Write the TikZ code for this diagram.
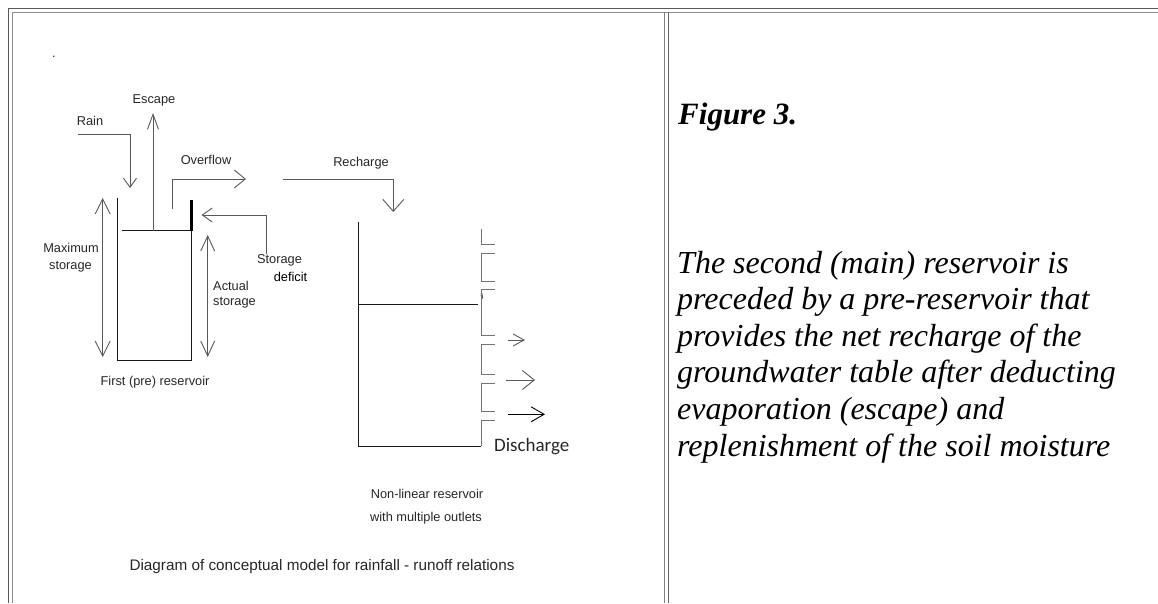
\documentclass[tikz,border=0pt]{standalone}
\usepackage{fontspec}
\setmainfont{Liberation Sans}
\newfontfamily\timesfont{Liberation Serif}
\newfontfamily\calibrifont{Carlito}
\usetikzlibrary{arrows.meta}
\begin{document}
\begin{tikzpicture}[x=1pt,y=-1pt,
  lbl/.style={font=\fontsize{12.8}{14}\selectfont, text=black!85, inner sep=0pt},
  captxt/.style={font=\fontsize{15.3}{17}\selectfont, text=black!85, inner sep=0pt},
  rtext/.style={font=\timesfont\itshape\fontsize{32}{36}\selectfont, text=black, inner sep=0pt, anchor=base west},
  ln/.style={line width=0.9pt, draw=black!65},
  wall/.style={line width=1pt, draw=black!90},
  outlet/.style={line width=1pt, draw=black!55},
  arr/.style 2 args={-{Straight Barb[length=#1pt,width=#2pt]}},
  darr/.style 2 args={{Straight Barb[length=#1pt,width=#2pt]}-{Straight Barb[length=#1pt,width=#2pt]}},
  border/.style={line width=1pt}]
\useasboundingbox (0,0) rectangle (1158,603);
% table borders
\draw[border, draw=black!65] (8.5,603) -- (8.5,8.5) -- (1158,8.5);
\draw[border, draw=black!45] (12,603) -- (12,12) -- (1158,12);
\draw[border, draw=black!50] (664.5,12) -- (664.5,603);
\draw[border, draw=black!60] (668.5,12) -- (668.5,603);
\node[lbl] (dot) at (54,57) {.};
% first reservoir
\coordinate (p1) at (117.5,198);
\coordinate (p2) at (117.5,360);
\coordinate (p3) at (191.5,360);
\coordinate (p4) at (191.5,230.5);
\draw[wall] (p1) -- (p2) -- (p3) -- (p4);
\coordinate (t1) at (191.5,200);
\draw[line width=2.3pt] (t1) -- (p4);
\coordinate (w1) at (121.5,230.5);
\coordinate (w2) at (190,230.5);
\draw[wall] (w1) -- (w2);
% escape
\coordinate (e1) at (153,230.5);
\coordinate (e2) at (153,113);
\draw[ln, arr={15}{11}] (e1) -- (e2);
\node[lbl] (escape) at (154,100) {Escape};
% rain
\coordinate (ra1) at (77.5,134);
\coordinate (ra2) at (130,134);
\coordinate (ra3) at (130,188);
\draw[ln, arr={9}{13}] (ra1) -- (ra2) -- (ra3);
\node[lbl] (rain) at (90,120.5) {Rain};
% overflow
\coordinate (o1) at (172.3,209);
\coordinate (o2) at (172.3,179);
\coordinate (o3) at (246,179);
\draw[ln, arr={11}{18}] (o1) -- (o2) -- (o3);
\node[lbl] (overflow) at (206,160) {Overflow};
% recharge
\coordinate (c1) at (283,179);
\coordinate (c2) at (393.3,179);
\coordinate (c3) at (393.3,212);
\draw[ln, arr={12}{21}] (c1) -- (c2) -- (c3);
\node[lbl] (recharge) at (361,163) {Recharge};
% storage deficit
\coordinate (d1) at (266,254);
\coordinate (d2) at (266,215);
\coordinate (d3) at (201.5,215);
\draw[ln, arr={10}{14}] (d1) -- (d2) -- (d3);
\node[lbl] (stor) at (279.5,260.5) {Storage};
\node[lbl, text=black] (deficit) at (290.5,276.5) {deficit};
% maximum storage
\coordinate (m1) at (102.7,198);
\coordinate (m2) at (102.7,357);
\draw[ln, darr={15}{15}] (m1) -- (m2);
\node[lbl] (max1) at (71,248) {Maximum};
\node[lbl] (max2) at (70.5,267) {storage};
% actual storage
\coordinate (a1) at (207.7,235);
\coordinate (a2) at (207.7,357);
\draw[ln, darr={15}{14}] (a1) -- (a2);
\node[lbl] (act1) at (231,286) {Actual};
\node[lbl] (act2) at (234.5,302.5) {storage};
\node[lbl] (first) at (155,382.5) {First (pre) reservoir};
% second reservoir
\coordinate (s1) at (358.3,222);
\coordinate (s2) at (358.3,446);
\coordinate (s3) at (481,446);
\draw[wall] (s1) -- (s2) -- (s3);
\coordinate (sw1) at (358.3,304.3);
\coordinate (sw2) at (478,304.3);
\draw[wall] (sw1) -- (sw2);
\coordinate (mk1) at (481.5,293.5);
\coordinate (mk2) at (482,298.5);
\draw[line width=1.6pt] (mk1) -- (mk2);
% outlet wall
\draw[outlet] (481,229) -- (481,244) -- (495,244);
\draw[outlet] (495,253) -- (481,253) -- (481,281.7) -- (495,281.7);
\draw[outlet] (495,289.3) -- (481,289.3) -- (481,335.5) -- (495,335.5);
\draw[outlet] (495,344) -- (481,344) -- (481,374.5) -- (495,374.5);
\draw[outlet] (495,383.3) -- (481,383.3) -- (481,411.7) -- (495,411.7);
\draw[outlet] (495,420.7) -- (481,420.7) -- (s3);
% outlet arrows
\coordinate (q1a) at (508,340);
\coordinate (q1b) at (525,340);
\draw[ln, arr={11}{12}] (q1a) -- (q1b);
\coordinate (q2a) at (506,380);
\coordinate (q2b) at (535,380);
\draw[ln, arr={12}{19}] (q2a) -- (q2b);
\coordinate (q3a) at (508,414.3);
\coordinate (q3b) at (545,414.3);
\draw[ln, draw=black, arr={13}{15}] (q3a) -- (q3b);
\node[inner sep=0pt, font=\calibrifont\fontsize{19}{22}\selectfont, text=black!85] (discharge) at (531.7,447) {Discharge};
\node[lbl] (nl1) at (427,494) {Non-linear reservoir};
\node[lbl] (nl2) at (426,518) {with multiple outlets};
\node[captxt] (caption) at (322,567) {Diagram of conceptual model for rainfall - runoff relations};
% right text
\node[rtext, font=\timesfont\itshape\bfseries\fontsize{31}{36}\selectfont] (fig) at (678,124) {Figure 3.};
\node[rtext] (l1) at (677,273) {The second (main) reservoir is};
\node[rtext] (l2) at (677,309.6) {preceded by a pre-reservoir that};
\node[rtext] (l3) at (677,346.2) {provides the net recharge of the};
\node[rtext] (l4) at (677,382.8) {groundwater table after deducting};
\node[rtext] (l5) at (677,419.4) {evaporation (escape) and};
\node[rtext] (l6) at (677,456) {replenishment of the soil moisture};
\end{tikzpicture}
\end{document}
